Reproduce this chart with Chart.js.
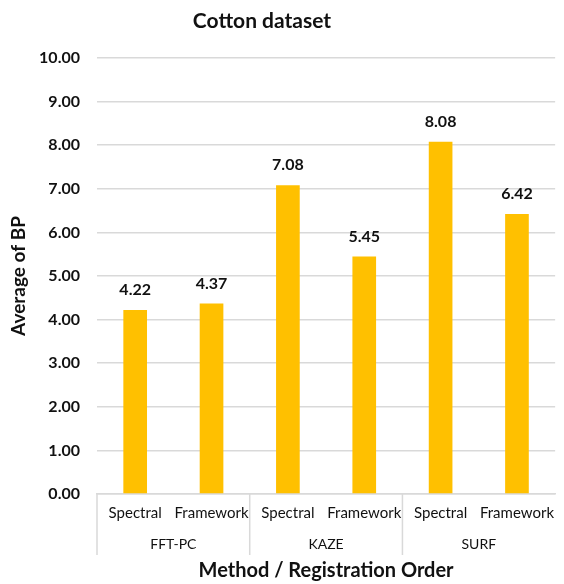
<!DOCTYPE html>
<html>
<head>
<meta charset="utf-8">
<script src="https://cdn.jsdelivr.net/npm/chart.js@4"></script>
<style>
  html, body { margin: 0; padding: 0; background: #fff; }
  #wrap { width: 564px; height: 584px; }
</style>
</head>
<body>
<div id="wrap"><canvas id="bpChart" width="564" height="584"></canvas></div>
<script>
// Data
const orders = ['Spectral', 'Framework', 'Spectral', 'Framework', 'Spectral', 'Framework'];
const methods = ['FFT-PC', 'KAZE', 'SURF'];
const avgBP = [4.22, 4.37, 7.08, 5.45, 8.08, 6.42];
const yTicks = [0, 1, 2, 3, 4, 5, 6, 7, 8, 9, 10];

const FONT = 'Lato, Carlito, Calibri, sans-serif';
const gridGray = '#d9d9d9';

// Title, value labels, method labels and separators drawn on the canvas
const extras = {
    id: 'extras',
    afterDatasetsDraw(chart) {
        const ctx = chart.ctx;
        const meta = chart.getDatasetMeta(0);
        ctx.save();
        ctx.fillStyle = '#111';
        ctx.textAlign = 'center';
        ctx.textBaseline = 'middle';
        ctx.font = 'bold 16px ' + FONT;
        meta.data.forEach((bar, i) => {
            ctx.fillText(avgBP[i].toFixed(2), bar.x, bar.y - 20);
        });
        ctx.restore();
    },
    afterDraw(chart) {
        const ctx = chart.ctx;
        const xs = chart.scales.x;
        const area = chart.chartArea;
        ctx.save();
        // chart title
        ctx.fillStyle = '#111';
        ctx.textAlign = 'center';
        ctx.textBaseline = 'middle';
        ctx.font = 'bold 21px ' + FONT;
        ctx.fillText('Cotton dataset', 262, 21);

        // group separators
        ctx.strokeStyle = gridGray;
        ctx.lineWidth = 1.5;
        const per = orders.length / methods.length;
        const bounds = [area.left];
        for (let g = 1; g < methods.length; g++) {
            const a = xs.getPixelForValue(g * per - 1);
            const b = xs.getPixelForValue(g * per);
            bounds.push((a + b) / 2);
        }
        bounds.push(area.right);
        bounds.slice(0, -1).forEach(x => {
            ctx.beginPath();
            ctx.moveTo(x, area.bottom);
            ctx.lineTo(x, 555);
            ctx.stroke();
        });

        // method labels
        ctx.fillStyle = '#111';
        ctx.font = '14px ' + FONT;
        methods.forEach((m, g) => {
            ctx.fillText(m, (bounds[g] + bounds[g + 1]) / 2, 544);
        });
        ctx.restore();
    }
};

const ctx = document.getElementById('bpChart').getContext('2d');
new Chart(ctx, {
    type: 'bar',
    data: {
        labels: orders,
        datasets: [{
            label: 'Average of BP',
            data: avgBP,
            backgroundColor: '#ffc000',
            borderWidth: 0,
            barPercentage: 0.31,
            categoryPercentage: 1.0
        }]
    },
    options: {
        responsive: false,
        animation: false,
        layout: { padding: { top: 58, right: 0, bottom: 0, left: 0 } },
        plugins: {
            legend: { display: false },
            tooltip: { enabled: false },
            title: { display: false }
        },
        scales: {
            x: {
                grid: { display: false, drawTicks: false },
                border: { display: true, color: gridGray, width: 1.5 },
                ticks: {
                    color: '#111',
                    font: { family: FONT, size: 15 },
                    padding: 10,
                    maxRotation: 0,
                    autoSkip: false
                },
                title: {
                    display: true,
                    text: 'Method / Registration Order',
                    color: '#111',
                    font: { family: FONT, size: 20, weight: 'bold' },
                    padding: { top: 0, bottom: 1 }
                },
                afterFit(scale) { scale.height = 90; }
            },
            y: {
                min: 0,
                max: 10,
                afterBuildTicks(scale) {
                    scale.ticks = yTicks.map(v => ({ value: v }));
                },
                grid: { color: gridGray, lineWidth: 1.5, drawTicks: false },
                border: { display: false },
                ticks: {
                    color: '#111',
                    font: { family: FONT, size: 16, weight: 'bold' },
                    padding: 17,
                    callback: v => Number(v).toFixed(2)
                },
                title: {
                    display: true,
                    text: 'Average of BP',
                    color: '#111',
                    font: { family: FONT, size: 19, weight: 'bold' },
                    padding: { top: 7, bottom: 0 }
                },
                afterFit(scale) { scale.width = 97; }
            }
        }
    },
    plugins: [extras]
});
</script>
</body>
</html>
